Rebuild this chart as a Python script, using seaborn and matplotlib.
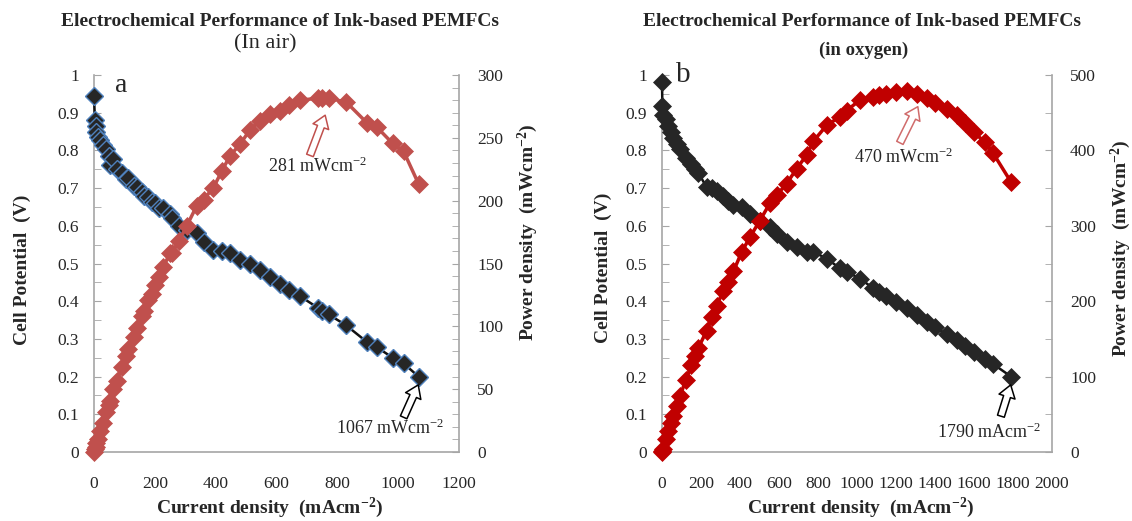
import matplotlib
matplotlib.use("Agg")
import matplotlib.pyplot as plt
from matplotlib.ticker import MultipleLocator, FuncFormatter
import seaborn as sns

# ==========================================================
# DATA
# ==========================================================

# panel a : in air
air_current = [0, 3, 5, 8, 12, 20, 28, 40, 48, 53, 64, 75, 91, 105, 113, 130,
               140, 157, 165, 179, 190, 201, 215, 228, 250, 256, 280, 305, 338,
               360, 392, 420, 447, 480, 513, 546, 579, 610, 641, 676, 735, 750,
               771, 829, 897, 930, 982, 1018, 1067]
air_voltage = [0.945, 0.880, 0.865, 0.850, 0.835, 0.828, 0.815, 0.803, 0.785,
               0.760, 0.778, 0.750, 0.740, 0.725, 0.727, 0.705, 0.704, 0.690,
               0.678, 0.677, 0.662, 0.660, 0.646, 0.647, 0.632, 0.620, 0.600,
               0.590, 0.580, 0.558, 0.536, 0.532, 0.527, 0.510, 0.500, 0.483,
               0.465, 0.445, 0.431, 0.414, 0.383, 0.375, 0.365, 0.336, 0.292,
               0.278, 0.250, 0.235, 0.200]
air_power = [0, 2.6, 4.3, 6.8, 10.0, 16.6, 22.8, 32.1, 37.7, 40.3, 49.8, 56.3,
             67.3, 76.1, 82.2, 91.7, 98.6, 108.3, 111.9, 121.2, 125.8, 132.7,
             138.9, 147.5, 158.0, 158.7, 168.0, 180.0, 196.0, 200.9, 210.1,
             223.4, 235.7, 244.8, 256.5, 263.7, 269.2, 271.5, 276.3, 279.9,
             281.5, 281.3, 281.4, 278.5, 262.0, 258.5, 245.5, 239.2, 213.4]

# panel b : in oxygen
o2_current = [0, 2, 5, 20, 32, 45, 58, 75, 92, 123, 150, 169, 186, 229, 255,
              280, 314, 340, 366, 409, 451, 500, 554, 588, 639, 691, 742, 776,
              845, 913, 947, 1015, 1084, 1115, 1151, 1200, 1255, 1306, 1360,
              1400, 1460, 1511, 1554, 1600, 1656, 1699, 1790]
o2_voltage = [0.982, 0.917, 0.895, 0.882, 0.864, 0.850, 0.833, 0.816, 0.803,
              0.781, 0.765, 0.750, 0.741, 0.702, 0.700, 0.693, 0.680, 0.665,
              0.654, 0.649, 0.632, 0.612, 0.596, 0.579, 0.557, 0.544, 0.531,
              0.531, 0.513, 0.487, 0.478, 0.460, 0.434, 0.425, 0.413, 0.398,
              0.381, 0.364, 0.345, 0.331, 0.312, 0.296, 0.281, 0.265, 0.248,
              0.233, 0.200]
o2_power = [0, 1.8, 4.5, 17.6, 27.6, 38.3, 48.3, 61.2, 73.9, 96.1, 114.8, 126.8,
            137.8, 160.8, 178.5, 194.0, 213.5, 226.1, 239.4, 265.4, 285.0,
            306.0, 330.2, 340.5, 355.9, 375.9, 394.0, 412.1, 433.5, 444.6,
            452.7, 466.9, 470.5, 473.9, 475.4, 477.6, 478.2, 475.4, 469.2,
            463.4, 455.5, 447.3, 436.7, 424.0, 410.7, 395.9, 358.0]

titles = ["Electrochemical Performance of Ink-based PEMFCs", "(In air)",
          "Electrochemical Performance of Ink-based PEMFCs", "(in oxygen)"]
peak_labels = ["281 mWcm$^{-2}$", "470 mWcm$^{-2}$"]
end_labels = ["1067 mWcm$^{-2}$", "1790 mAcm$^{-2}$"]

# ==========================================================
# STYLE
# ==========================================================

sns.set_style("white")
plt.rcParams['font.family'] = ['Liberation Serif', 'DejaVu Serif']
plt.rcParams['mathtext.fontset'] = 'custom'
plt.rcParams['mathtext.rm'] = 'Liberation Serif'
plt.rcParams['mathtext.it'] = 'Liberation Serif:italic'
plt.rcParams['mathtext.bf'] = 'Liberation Serif:bold'

W, H = 1132, 521
GRAY = '#a6a6a6'
ARROW = 'simple,head_length=0.55,head_width=0.75,tail_width=0.32'
MS = 9

fig = plt.figure(figsize=(W / 100, H / 100), dpi=100)


def fx(x):
    return x / W


def fy(y):
    return 1 - y / H


fmt = FuncFormatter(lambda v, p: '{:g}'.format(round(v, 3)))


def style_axes(ax, axp, xmax, xmaj, pmax, pmaj, pmin):
    ax.set_xlim(0, xmax)
    ax.set_ylim(0, 1)
    axp.set_ylim(0, pmax)
    ax.xaxis.set_major_locator(MultipleLocator(xmaj))
    ax.xaxis.set_minor_locator(MultipleLocator(100))
    ax.yaxis.set_major_locator(MultipleLocator(0.1))
    ax.yaxis.set_minor_locator(MultipleLocator(0.05))
    axp.yaxis.set_major_locator(MultipleLocator(pmaj))
    axp.yaxis.set_minor_locator(MultipleLocator(pmin))
    ax.yaxis.set_major_formatter(fmt)
    for a in (ax, axp):
        a.set_xlabel('')
        a.set_ylabel('')
        for s in a.spines.values():
            s.set_color(GRAY)
            s.set_linewidth(1.2)
        a.spines['top'].set_visible(False)
    axp.spines['left'].set_visible(False)
    axp.spines['bottom'].set_visible(False)
    ax.spines['right'].set_visible(False)
    ax.tick_params(axis='x', which='both', direction='in', length=5,
                   color=GRAY, labelsize=12.5, pad=17)
    ax.tick_params(axis='y', which='both', direction='in', length=5,
                   color=GRAY, labelsize=12.5, pad=11)
    axp.tick_params(axis='y', which='both', direction='in', length=5,
                    color=GRAY, labelsize=12.5, pad=13)


def arrow(ax, tip, base, edge):
    ax.annotate('', xy=tip, xytext=base,
                arrowprops=dict(arrowstyle=ARROW, mutation_scale=16,
                                fc='white', ec=edge, lw=1.1,
                                shrinkA=0, shrinkB=0))


# ==========================================================
# PANEL A (IN AIR)
# ==========================================================

ax1 = fig.add_axes([fx(94), fy(452), 365 / W, 377 / H])
sns.lineplot(x=air_current, y=air_voltage, ax=ax1, sort=False,
             color='#111111', lw=1.8, marker='D', markersize=MS,
             markerfacecolor='#262626', markeredgecolor='#4f81bd',
             markeredgewidth=1.0, clip_on=False, zorder=3)
ax1p = ax1.twinx()
sns.lineplot(x=air_current, y=air_power, ax=ax1p, sort=False,
             color='#c0504d', lw=2.5, marker='D', markersize=MS,
             markerfacecolor='#c0504d', markeredgecolor='#c0504d',
             markeredgewidth=0.5, clip_on=False, zorder=3)
style_axes(ax1, ax1p, 1200, 200, 300, 50, 10)

ax1.text(90, 0.973, 'a', fontsize=20, ha='center', va='center')
ax1p.text(735, 227, peak_labels[0], fontsize=13, ha='center', va='center')
arrow(ax1p, (760, 268), (710, 236), '#c0504d')
ax1.text(972, 0.062, end_labels[0], fontsize=13, ha='center', va='center')
arrow(ax1, (1066, 0.178), (1018, 0.092), 'black')

# ==========================================================
# PANEL B (IN OXYGEN)
# ==========================================================

ax2 = fig.add_axes([fx(662), fy(452), 390 / W, 377 / H])
sns.lineplot(x=o2_current, y=o2_voltage, ax=ax2, sort=False,
             color='#111111', lw=1.8, marker='D', markersize=MS,
             markerfacecolor='#262626', markeredgecolor='#262626',
             markeredgewidth=0.5, clip_on=False, zorder=3)
ax2p = ax2.twinx()
sns.lineplot(x=o2_current, y=o2_power, ax=ax2p, sort=False,
             color='#c00000', lw=2.5, marker='D', markersize=MS,
             markerfacecolor='#c00000', markeredgecolor='#c00000',
             markeredgewidth=0.5, clip_on=False, zorder=3)
style_axes(ax2, ax2p, 2000, 200, 500, 100, 50)

ax2.text(110, 1.0, 'b', fontsize=21, ha='center', va='center')
ax2p.text(1241, 391, peak_labels[1], fontsize=13, ha='center', va='center')
arrow(ax2p, (1312, 458), (1220, 410), '#d06b6b')
ax2.text(1680, 0.052, end_labels[1], fontsize=13, ha='center', va='center')
arrow(ax2, (1788, 0.178), (1738, 0.095), 'black')

# ==========================================================
# TITLES AND AXIS LABELS
# ==========================================================

fig.text(fx(280), fy(22), titles[0], fontsize=14, fontweight='bold', ha='center', va='center')
fig.text(fx(265), fy(44), titles[1], fontsize=16, ha='center', va='center')
fig.text(fx(862), fy(22), titles[2], fontsize=14, fontweight='bold', ha='center', va='center')
fig.text(fx(864), fy(50), titles[3], fontsize=13.5, fontweight='bold', ha='center', va='center')

xlab = r"Current density  (mAcm$^{\mathbf{-2}}$)"
vlab = "Cell Potential  (V)"
plab = r"Power density  (mWcm$^{\mathbf{-2}}$)"

fig.text(fx(270), fy(508), xlab, fontsize=14, fontweight='bold', ha='center', va='center')
fig.text(fx(861), fy(508), xlab, fontsize=14, fontweight='bold', ha='center', va='center')
fig.text(fx(22), fy(270), vlab, fontsize=14, fontweight='bold', rotation=90, ha='center', va='center')
fig.text(fx(528), fy(232), plab, fontsize=14, fontweight='bold', rotation=90, ha='center', va='center')
fig.text(fx(603), fy(268), vlab, fontsize=14, fontweight='bold', rotation=90, ha='center', va='center')
fig.text(fx(1121), fy(248), plab, fontsize=14, fontweight='bold', rotation=90, ha='center', va='center')

fig.savefig("out.png", dpi=100)
